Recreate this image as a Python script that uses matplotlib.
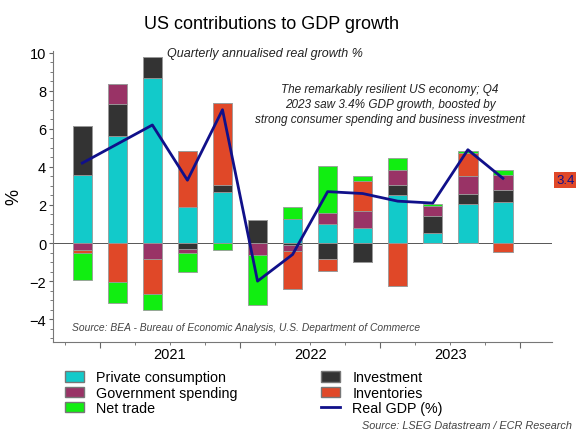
import numpy as np
import matplotlib.pyplot as plt
from matplotlib.patches import Patch
from matplotlib.lines import Line2D
from matplotlib.ticker import MultipleLocator, FixedLocator, NullFormatter

plt.rcParams['font.family'] = ['Liberation Sans', 'DejaVu Sans']

# quarters 2020Q4 .. 2023Q4
quarters = ['2020Q4', '2021Q1', '2021Q2', '2021Q3', '2021Q4',
            '2022Q1', '2022Q2', '2022Q3', '2022Q4',
            '2023Q1', '2023Q2', '2023Q3', '2023Q4']
private_consumption = [3.58, 5.64, 8.69, 1.87, 2.70, 0.0, 1.27, 1.01, 0.79, 2.53, 0.52, 2.06, 2.15]
investment = [2.56, 1.64, 1.08, -0.30, 0.35, 1.22, -0.09, -0.82, -1.00, 0.52, 0.91, 0.52, 0.65]
government = [-0.35, 1.05, -0.82, -0.23, 0.0, -0.61, -0.35, 0.56, 0.91, 0.79, 0.54, 0.94, 0.79]
inventories = [-0.17, -2.06, -1.88, 2.97, 4.28, 0.0, -1.97, -0.63, 1.54, -2.23, 0.0, 1.22, -0.47]
net_trade = [-1.42, -1.08, -0.84, -1.00, -0.38, -2.62, 0.61, 2.48, 0.30, 0.61, 0.09, 0.09, 0.23]
real_gdp = [4.2, 5.2, 6.2, 3.3, 7.0, -2.0, -0.6, 2.7, 2.6, 2.2, 2.1, 4.9, 3.4]

years = ['2021', '2022', '2023']

series = [
    ('Private consumption', private_consumption, '#12CACA'),
    ('Investment', investment, '#333333'),
    ('Government spending', government, '#993366'),
    ('Inventories', inventories, '#E04828'),
    ('Net trade', net_trade, '#11EE11'),
]

fig = plt.figure(figsize=(5.78, 4.31), dpi=100)
ax = fig.add_axes([0.092, 0.204, 0.863, 0.676])

x = np.arange(len(quarters))
pos_base = np.zeros(len(x))
neg_base = np.zeros(len(x))
for name, vals, col in series:
    v = np.array(vals)
    pos = np.where(v > 0, v, 0)
    neg = np.where(v < 0, v, 0)
    ax.bar(x, pos, 0.55, bottom=pos_base, color=col, edgecolor='#999999', linewidth=0.6, zorder=2)
    ax.bar(x, neg, 0.55, bottom=neg_base, color=col, edgecolor='#999999', linewidth=0.6, zorder=2)
    pos_base += pos
    neg_base += neg

ax.plot(x, real_gdp, color='#10108A', lw=2, zorder=3)
ax.axhline(0, color='#555555', lw=0.7, zorder=1)

ax.set_xlim(-0.83, 13.4)
ax.set_ylim(-5.2, 10.1)
ax.yaxis.set_major_locator(MultipleLocator(2))
ax.yaxis.set_minor_locator(MultipleLocator(0.5))
ax.tick_params(axis='y', labelsize=10.5, length=3, color='#666666', pad=2)
ax.tick_params(axis='y', which='minor', length=2, color='#666666')
ax.set_xticks([0.5, 4.5, 8.5, 12.5])
ax.set_xticklabels([])
ax.xaxis.set_minor_locator(FixedLocator([-0.5, 1.5, 2.5, 3.5, 5.5, 6.5, 7.5, 9.5, 10.5, 11.5]))
ax.xaxis.set_minor_formatter(NullFormatter())
ax.tick_params(axis='x', length=4, color='#666666')
ax.tick_params(axis='x', which='minor', length=2, color='#666666')
for i, yr in enumerate(years):
    ax.text(2.5 + 4 * i, -0.017, yr, transform=ax.get_xaxis_transform(),
            ha='center', va='top', fontsize=10.5)

for s in ['top', 'right']:
    ax.spines[s].set_visible(False)
for s in ['left', 'bottom']:
    ax.spines[s].set_color('#777777')
ax.set_ylabel('%', fontsize=13, labelpad=5)

fig.text(0.47, 0.942, 'US contributions to GDP growth', ha='center', va='center', fontsize=13)
fig.text(0.459, 0.875, 'Quarterly annualised real growth %',
         ha='center', va='center', fontsize=9, style='italic', color='#222222')
ax.text(0.675, 0.89,
        'The remarkably resilient US economy; Q4\n2023 saw 3.4% GDP growth, boosted by\n'
        'strong consumer spending and business investment',
        transform=ax.transAxes, ha='center', va='top', fontsize=8.5, style='italic',
        color='#222222', linespacing=1.35)
ax.text(0.037, 0.053, 'Source: BEA - Bureau of Economic Analysis, U.S. Department of Commerce',
        transform=ax.transAxes, ha='left', va='center', fontsize=7.4, style='italic', color='#444444')

ax.annotate('3.4', xy=(1.0, real_gdp[-1]), xycoords=('axes fraction', 'data'),
            xytext=(9.5, -1), textcoords='offset points', ha='center', va='center',
            fontsize=9.5, color='#10108A', annotation_clip=False,
            bbox=dict(boxstyle='square,pad=0.15', fc='#E04828', ec='none'))

handles = [
    Patch(facecolor='#12CACA', edgecolor='#777777', label='Private consumption'),
    Patch(facecolor='#993366', edgecolor='#777777', label='Government spending'),
    Patch(facecolor='#11EE11', edgecolor='#777777', label='Net trade'),
    Patch(facecolor='#333333', edgecolor='#777777', label='Investment'),
    Patch(facecolor='#E04828', edgecolor='#777777', label='Inventories'),
    Line2D([], [], color='#10108A', lw=2, label='Real GDP (%)'),
]
fig.legend(handles=handles, ncol=2, loc='upper left', bbox_to_anchor=(0.100, 0.155),
           frameon=False, fontsize=10.3, handlelength=1.35, handleheight=0.75,
           labelspacing=0.1, columnspacing=5.8, handletextpad=0.85, borderpad=0)

fig.text(0.99, 0.011, 'Source: LSEG Datastream / ECR Research', ha='right', va='center',
         fontsize=7.8, style='italic', color='#444444')

fig.savefig('out.png', dpi=100)
